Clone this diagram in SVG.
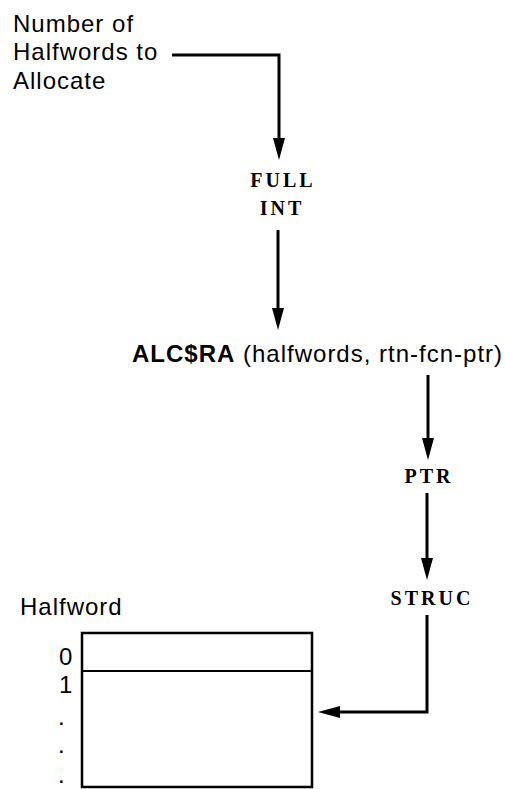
<svg xmlns="http://www.w3.org/2000/svg" width="505" height="789" viewBox="0 0 505 789">
<style>
.sans{font-family:"Liberation Sans",Arial,Helvetica,sans-serif;font-size:24px;letter-spacing:1px;fill:#000}
.mono{font-family:"Liberation Serif","Times New Roman",serif;font-size:20px;font-weight:bold;letter-spacing:3px;fill:#000}
.conn{fill:none;stroke:#000;stroke-width:3;stroke-linejoin:miter}
.box{fill:#fff;stroke:#000;stroke-width:2.5}
</style>
<defs>
<marker id="ah" markerUnits="userSpaceOnUse" markerWidth="22" markerHeight="12" refX="12" refY="6" orient="auto">
<path d="M0,0 L22,6 L0,12 z" fill="#000"/>
</marker>
</defs>
<rect width="505" height="789" fill="#fff"/>
<g id="input">
<text class="sans" x="13" y="32">Number of</text>
<text class="sans" x="13" y="60">Halfwords to</text>
<text class="sans" x="13" y="89">Allocate</text>
</g>
<g id="fullint">
<text class="mono" x="283" y="187" text-anchor="middle">FULL</text>
<text class="mono" x="282" y="215" text-anchor="middle">INT</text>
</g>
<g id="alcra">
<text class="sans" x="132" y="362"><tspan font-weight="bold">ALC$RA</tspan> (halfwords, rtn-fcn-ptr)</text>
</g>
<g id="ptr">
<text class="mono" x="429" y="483" text-anchor="middle">PTR</text>
</g>
<g id="struc">
<text class="mono" x="432" y="605" text-anchor="middle">STRUC</text>
</g>
<g id="halfword">
<text class="sans" x="20" y="615">Halfword</text>
<rect class="box" x="82" y="633" width="230" height="154"/>
<line x1="82" y1="671" x2="312" y2="671" stroke="#000" stroke-width="2"/>
<text class="sans" x="59" y="665">0</text>
<text class="sans" x="59" y="693">1</text>
<text class="sans" x="58" y="725">.</text>
<text class="sans" x="58" y="753">.</text>
<text class="sans" x="58" y="783">.</text>
</g>
<g id="connectors">
<path class="conn" d="M172,55 H279 V150" marker-end="url(#ah)"/>
<path class="conn" d="M278,230 V320" marker-end="url(#ah)"/>
<path class="conn" d="M428,375 V450" marker-end="url(#ah)"/>
<path class="conn" d="M427,493 V570" marker-end="url(#ah)"/>
<path class="conn" d="M427,615 V712 H328" marker-end="url(#ah)"/>
</g>
</svg>
